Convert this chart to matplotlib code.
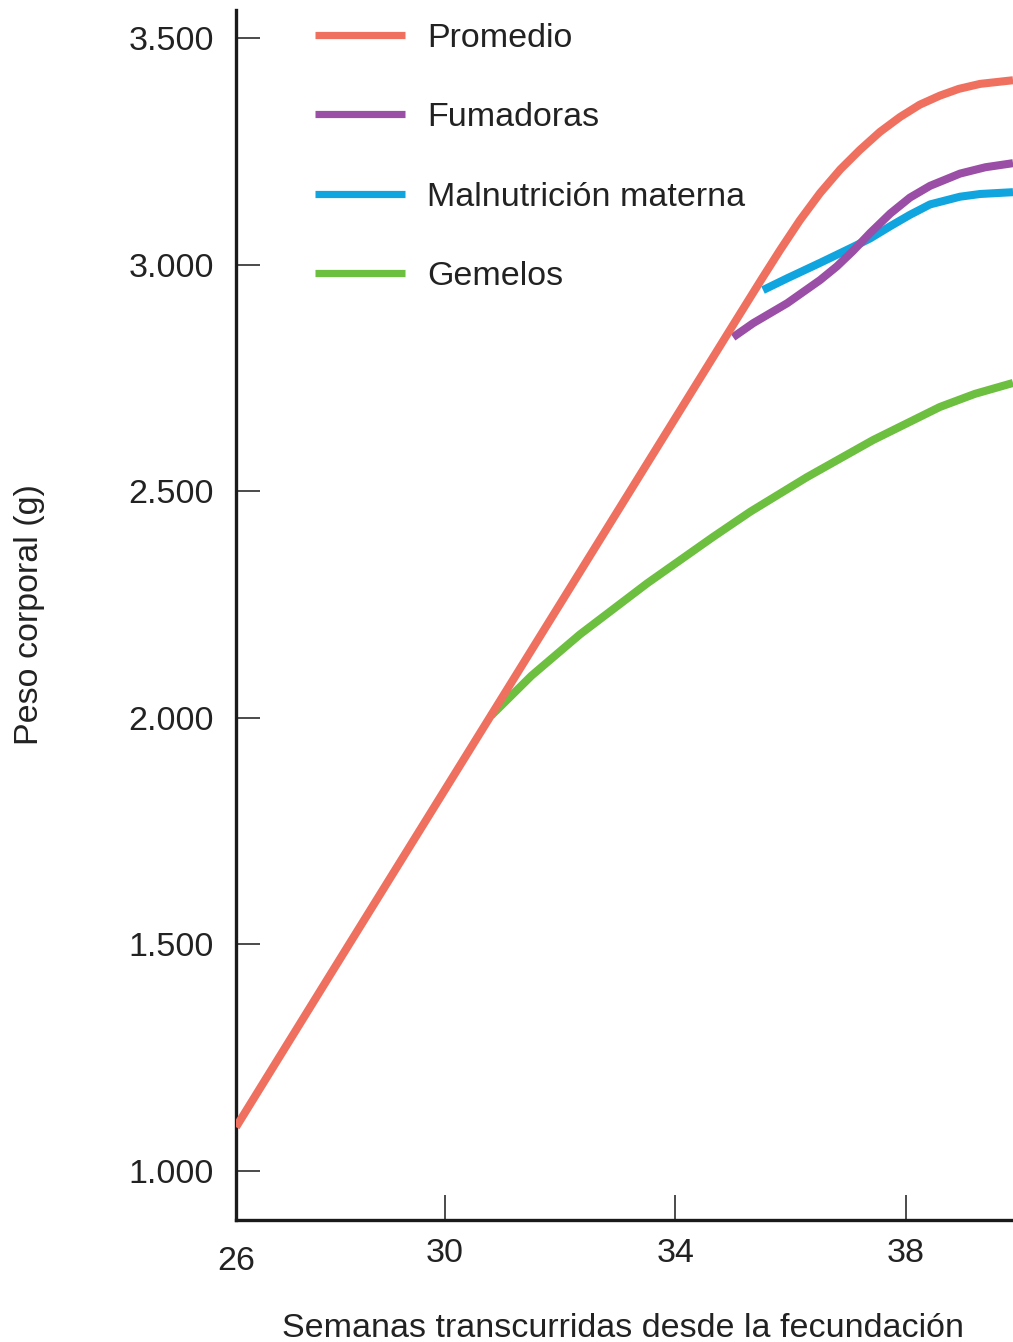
import matplotlib
matplotlib.use("Agg")
import matplotlib.pyplot as plt

plt.rcParams['font.family'] = ['Liberation Sans', 'DejaVu Sans']

# ---- data ----
weeks_promedio = [26.37, 28.0, 30.0, 32.0, 34.0, 35.0, 35.5, 35.82, 36.16, 36.51, 36.86, 37.2,
                  37.55, 37.9, 38.24, 38.59, 38.92, 39.29, 39.86]
peso_promedio = [1097, 1432, 1842, 2252, 2662, 2867, 2969, 3033, 3098, 3158, 3210, 3253,
                 3293, 3326, 3353, 3373, 3388, 3399, 3407]

weeks_fumadoras = [35.0, 35.35, 35.94, 36.51, 36.8, 37.08, 37.38, 37.73, 38.07, 38.42, 38.94, 39.38, 39.86]
peso_fumadoras = [2840, 2871, 2915, 2966, 2996, 3030, 3070, 3113, 3148, 3174, 3201, 3215, 3224]

weeks_malnutricion = [35.52, 35.94, 36.51, 37.08, 37.38, 37.73, 38.07, 38.42, 38.94, 39.29, 39.86]
peso_malnutricion = [2944, 2970, 3004, 3039, 3058, 3085, 3110, 3133, 3150, 3156, 3160]

weeks_gemelos = [30.8, 31.5, 32.34, 33.51, 34.65, 35.3, 36.28, 37.43, 38.59, 39.2, 39.86]
peso_gemelos = [2005, 2093, 2184, 2297, 2399, 2455, 2531, 2613, 2686, 2715, 2739]

series_labels = ["Promedio", "Fumadoras", "Malnutrición materna", "Gemelos"]
series_colors = ["#F0705F", "#9B4EA6", "#10A5DF", "#6CBF3F"]

y_ticks = [1000, 1500, 2000, 2500, 3000, 3500]
y_tick_labels = ["1.000", "1.500", "2.000", "2.500", "3.000", "3.500"]
x_ticks = [30, 34, 38]
x_tick_labels = ["30", "34", "38"]
x_origin_label = "26"

x_label = "Semanas transcurridas desde la fecundación"
y_label = "Peso corporal (g)"

# ---- figure ----
fig = plt.figure(figsize=(10.13, 13.42), dpi=100)
ax = fig.add_axes([236 / 1013, 1 - 1220 / 1342, 1 - 236 / 1013, (1220 - 10) / 1342])

fs = 24.5
lw = 5.8
series = [
    (weeks_promedio, peso_promedio),
    (weeks_fumadoras, peso_fumadoras),
    (weeks_malnutricion, peso_malnutricion),
    (weeks_gemelos, peso_gemelos),
]
zorders = [4, 3, 2, 1]
for (xs, ys), lab, col, z in zip(series, series_labels, series_colors, zorders):
    ax.plot(xs, ys, color=col, lw=lw, label=lab, solid_capstyle='butt',
            solid_joinstyle='round', zorder=z)

ax.set_xlim(26.37, 39.86)
ax.set_ylim(892, 3562)

for s in ['top', 'right']:
    ax.spines[s].set_visible(False)
for s in ['left', 'bottom']:
    ax.spines[s].set_linewidth(2.4)
    ax.spines[s].set_color('#1a1a1a')

text_color = '#222222'
ax.set_yticks(y_ticks)
ax.set_yticklabels(y_tick_labels)
ax.set_xticks(x_ticks)
ax.set_xticklabels(x_tick_labels)
ax.tick_params(axis='y', direction='in', length=17, width=1.1, pad=16,
               labelsize=fs, colors='#1a1a1a', labelcolor=text_color)
ax.tick_params(axis='x', direction='in', length=18, width=1.1, pad=13,
               labelsize=fs, colors='#1a1a1a', labelcolor=text_color)

ax.text(0.0, -41 / 1210, x_origin_label, transform=ax.transAxes,
        ha='center', va='center', fontsize=fs, color=text_color)

ax.set_xlabel(x_label, fontsize=fs, color=text_color)
ax.xaxis.set_label_coords(0.4985, -93 / 1210)
ax.set_ylabel(y_label, fontsize=fs, color=text_color)
ax.yaxis.set_label_coords(-191 / 777, 0.5)

leg = ax.legend(loc='upper left', bbox_to_anchor=((315 - 236) / 777, (1220 - 23) / 1210),
                frameon=False, fontsize=fs, handlelength=2.65, handletextpad=0.64,
                labelspacing=1.42, borderpad=0, borderaxespad=0)
for t in leg.get_texts():
    t.set_color(text_color)
for h in leg.get_lines():
    h.set_linewidth(5.2)

fig.savefig("out.png", dpi=100, facecolor='white')
